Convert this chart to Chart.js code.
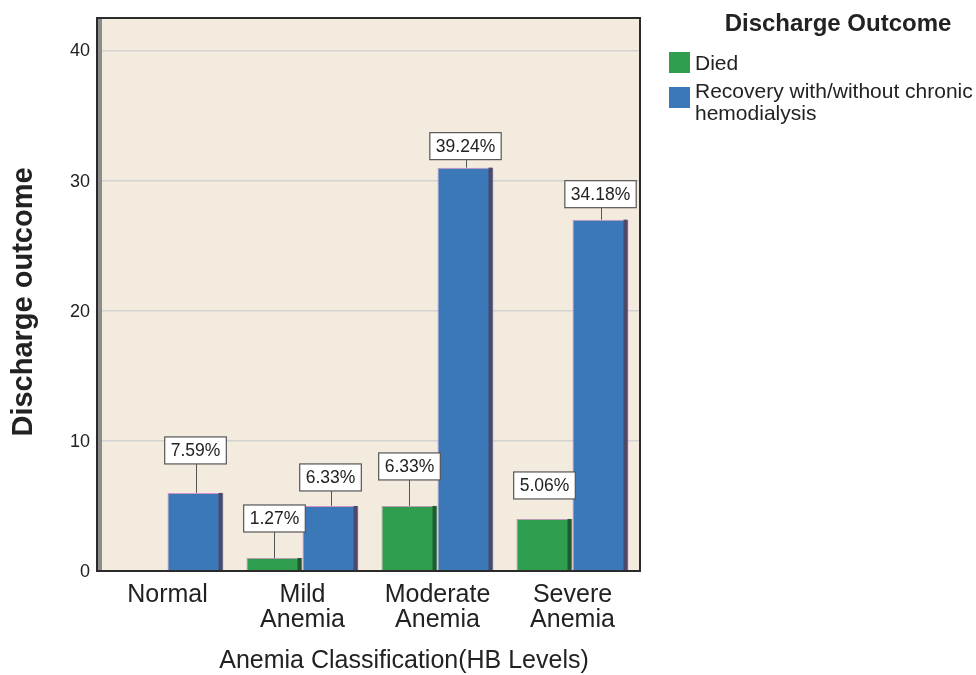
<!DOCTYPE html>
<html><head><meta charset="utf-8">
<script src="https://cdn.jsdelivr.net/npm/chart.js@4/dist/chart.umd.min.js"></script>
<style>html,body{margin:0;padding:0;background:#fff}#wrap{width:976px;height:675px;position:relative}</style>
</head><body><div id="wrap"><canvas id="c" width="976" height="675"></canvas></div>
<script>
// ---- data ----
const categories = ["Normal", ["Mild", "Anemia"], ["Moderate", "Anemia"], ["Severe", "Anemia"]];
const diedCounts = [0, 1, 5, 4];
const recoveryCounts = [6, 5, 31, 27];
const seriesNames = ["Died", "Recovery with/without chronic hemodialysis"];
const yTickValues = [0, 10, 20, 30, 40];
const legendTitle = "Discharge Outcome";
const xTitle = "Anemia Classification(HB Levels)";
const yTitle = "Discharge outcome";

const FONT = "'Liberation Sans', Arial, Helvetica, sans-serif";
const total = diedCounts.concat(recoveryCounts).reduce((a, b) => a + b, 0);

// label placement (style): gap in px between bar top and label box, and whether a leader line is drawn
const labelGap = [[0, 26, 26, 20], [29, 15, 8, 12]];
const labelLeader = [[false, true, true, false], [true, true, true, true]];

const colors = ["#2f9e4e", "#3b78b8"];
const stripColors = ["#1d5c30", "#4c4868"];

const bgPlugin = {
  id: 'bg',
  beforeDraw(chart) {
    const {ctx, chartArea: a} = chart;
    ctx.save();
    ctx.fillStyle = '#f3ebde';
    ctx.fillRect(a.left - 3, a.top, a.right - a.left + 3, a.bottom - a.top);
    ctx.restore();
  },
  afterDatasetsDraw(chart) {
    const {ctx, chartArea: a} = chart;
    ctx.save();
    chart.data.datasets.forEach((ds, di) => {
      const meta = chart.getDatasetMeta(di);
      meta.data.forEach((bar, i) => {
        if (!ds.data[i]) return;
        const right = bar.x + bar.width / 2;
        ctx.fillStyle = stripColors[di];
        ctx.fillRect(right - 5, bar.y, 4, bar.base - bar.y);
      });
    });
    ctx.fillStyle = '#8c8c8c';
    ctx.fillRect(a.left - 2, a.top, 4, a.bottom - a.top);
    ctx.strokeStyle = '#2b2b2b';
    ctx.lineWidth = 2;
    ctx.strokeRect(a.left - 3, a.top, a.right - a.left + 3, a.bottom - a.top);
    ctx.font = '17.5px ' + FONT;
    ctx.textAlign = 'center';
    ctx.textBaseline = 'middle';
    chart.data.datasets.forEach((ds, di) => {
      const meta = chart.getDatasetMeta(di);
      meta.data.forEach((bar, i) => {
        const v = ds.data[i];
        if (!v) return;
        const txt = (v / total * 100).toFixed(2) + '%';
        const w = ctx.measureText(txt).width + 12;
        const h = 27;
        const bottom = bar.y - labelGap[di][i];
        const x = bar.x;
        if (labelLeader[di][i]) {
          ctx.strokeStyle = '#555';
          ctx.lineWidth = 1;
          ctx.beginPath();
          ctx.moveTo(Math.round(x) + 0.5, bar.y);
          ctx.lineTo(Math.round(x) + 0.5, bottom);
          ctx.stroke();
        }
        ctx.fillStyle = '#ffffff';
        ctx.fillRect(x - w / 2, bottom - h, w, h);
        ctx.strokeStyle = '#555';
        ctx.lineWidth = 1.2;
        ctx.strokeRect(x - w / 2, bottom - h, w, h);
        ctx.fillStyle = '#222';
        ctx.fillText(txt, x, bottom - h / 2 + 1);
      });
    });
    ctx.restore();
  },
  afterDraw(chart) {
    const ctx = chart.ctx;
    ctx.save();
    ctx.fillStyle = '#222';
    ctx.textAlign = 'center';
    ctx.textBaseline = 'middle';
    // axis titles
    ctx.font = '25px ' + FONT;
    ctx.fillText(xTitle, 404, 661);
    ctx.save();
    ctx.translate(24, 302);
    ctx.rotate(-Math.PI / 2);
    ctx.font = 'bold 29px ' + FONT;
    ctx.fillText(yTitle, 0, 0);
    ctx.restore();
    // legend
    ctx.font = 'bold 24px ' + FONT;
    ctx.fillText(legendTitle, 838, 24);
    ctx.font = '21px ' + FONT;
    ctx.textAlign = 'left';
    ctx.fillStyle = colors[0];
    ctx.fillRect(669, 52, 21, 21);
    ctx.fillStyle = '#222';
    ctx.fillText(seriesNames[0], 695, 64);
    ctx.fillStyle = colors[1];
    ctx.fillRect(669, 87, 21, 21);
    ctx.fillStyle = '#222';
    const words = seriesNames[1].split(' ');
    ctx.fillText(words.slice(0, 3).join(' '), 695, 92);
    ctx.fillText(words.slice(3).join(' '), 695, 114);
    ctx.restore();
  }
};

new Chart(document.getElementById('c'), {
  type: 'bar',
  data: {
    labels: categories,
    datasets: [
      { label: seriesNames[0], data: diedCounts, backgroundColor: colors[0], borderColor: '#b89bb0', borderWidth: 1 },
      { label: seriesNames[1], data: recoveryCounts, backgroundColor: colors[1], borderColor: '#d392c6', borderWidth: 1 }
    ]
  },
  options: {
    responsive: false,
    animation: false,
    devicePixelRatio: 1,
    layout: { padding: { left: 0, right: 336, top: 18, bottom: 0 } },
    datasets: { bar: { barPercentage: 1.0, categoryPercentage: 0.83 } },
    plugins: { legend: { display: false }, tooltip: { enabled: false } },
    scales: {
      x: {
        grid: { display: false, drawTicks: false },
        border: { display: false },
        ticks: { color: '#222', font: { family: FONT, size: 25, lineHeight: 1.0 }, padding: 12, maxRotation: 0, autoSkip: false },
        title: { display: false },
        afterFit(s) { s.height = 104; s.paddingLeft = 0; s.paddingRight = 0; }
      },
      y: {
        min: 0, max: 42.5,
        grid: { color: '#d2d2d2', lineWidth: 1.5, drawTicks: false },
        border: { display: false },
        ticks: { stepSize: 10, color: '#222', font: { family: FONT, size: 18 }, padding: 10, labelOffset: 1 },
        afterBuildTicks(s) { s.ticks = yTickValues.map(v => ({ value: v })); },
        title: { display: false },
        afterFit(s) { s.width = 100; s.paddingTop = 0; s.paddingBottom = 0; }
      }
    }
  },
  plugins: [bgPlugin]
});
</script>
</body></html>
